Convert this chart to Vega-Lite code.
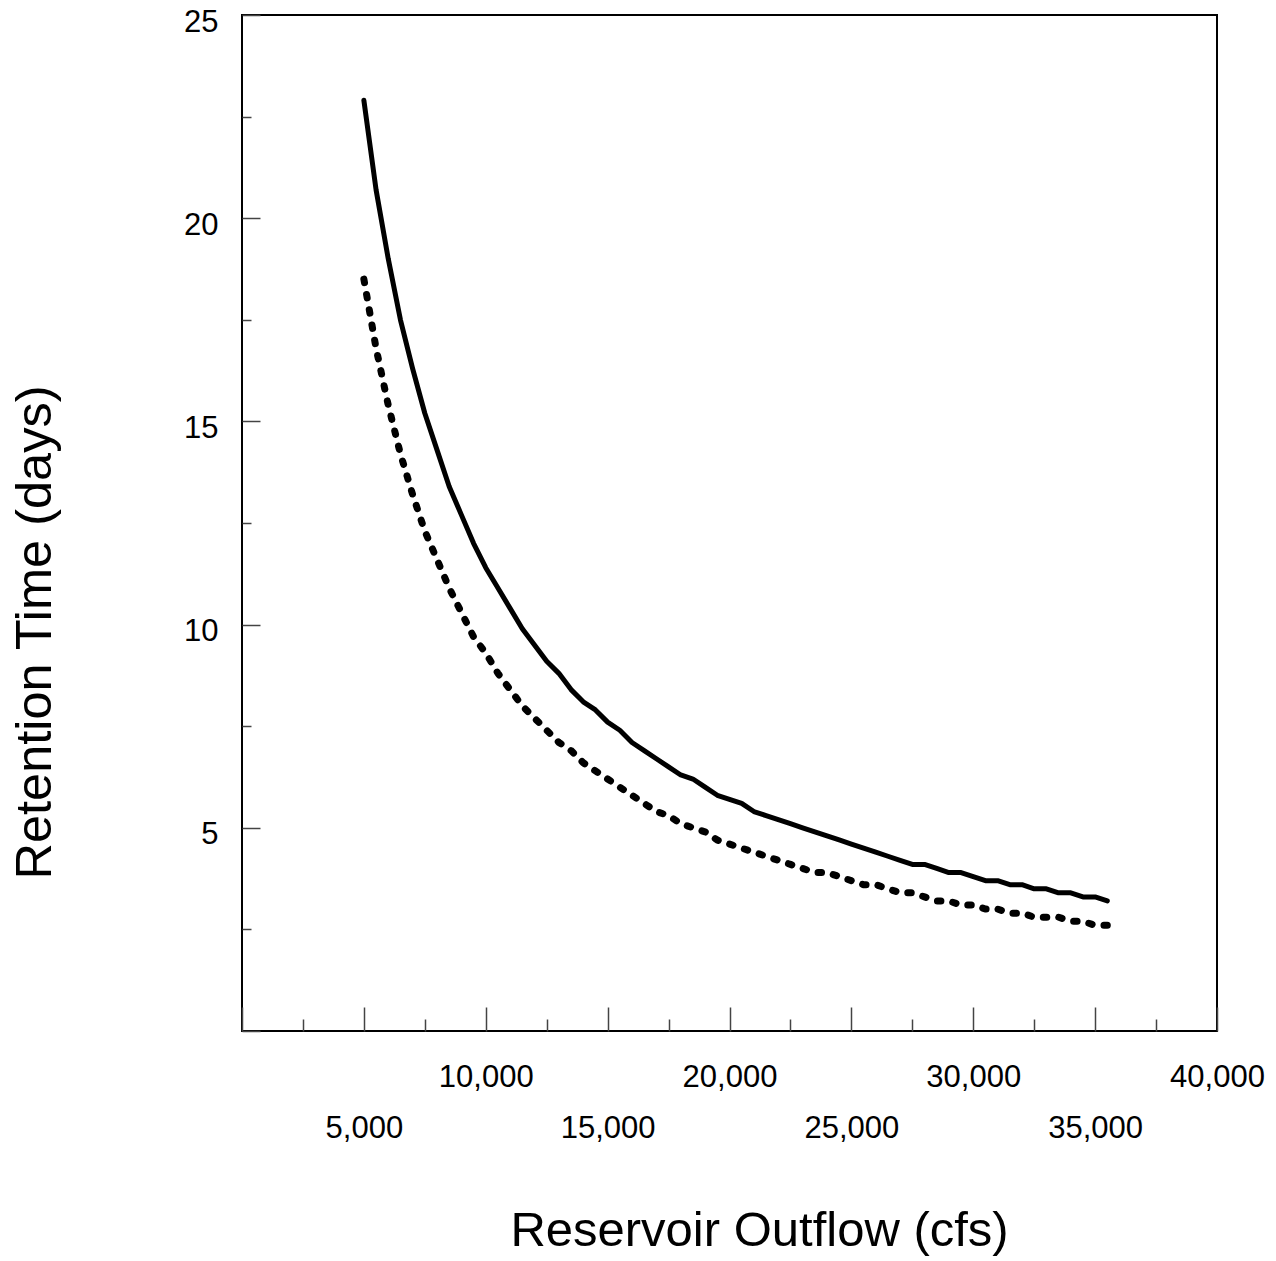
{
  "$schema": "https://vega.github.io/schema/vega-lite/v6.json",
  "autosize": "none",
  "padding": {"left": 242, "top": 15, "right": 59, "bottom": 230},
  "width": 975,
  "height": 1016,
  "background": "white",
  "config": {
    "view": {"stroke": "black", "strokeWidth": 2},
    "font": "Liberation Sans"
  },
  "data": {
    "values": [
      {"flow": 5000, "days": 22.9, "series": "A"},
      {"flow": 5500, "days": 20.7, "series": "A"},
      {"flow": 6000, "days": 19.0, "series": "A"},
      {"flow": 6500, "days": 17.5, "series": "A"},
      {"flow": 7000, "days": 16.3, "series": "A"},
      {"flow": 7500, "days": 15.2, "series": "A"},
      {"flow": 8000, "days": 14.3, "series": "A"},
      {"flow": 8500, "days": 13.4, "series": "A"},
      {"flow": 9000, "days": 12.7, "series": "A"},
      {"flow": 9500, "days": 12.0, "series": "A"},
      {"flow": 10000, "days": 11.4, "series": "A"},
      {"flow": 10500, "days": 10.9, "series": "A"},
      {"flow": 11000, "days": 10.4, "series": "A"},
      {"flow": 11500, "days": 9.9, "series": "A"},
      {"flow": 12000, "days": 9.5, "series": "A"},
      {"flow": 12500, "days": 9.1, "series": "A"},
      {"flow": 13000, "days": 8.8, "series": "A"},
      {"flow": 13500, "days": 8.4, "series": "A"},
      {"flow": 14000, "days": 8.1, "series": "A"},
      {"flow": 14500, "days": 7.9, "series": "A"},
      {"flow": 15000, "days": 7.6, "series": "A"},
      {"flow": 15500, "days": 7.4, "series": "A"},
      {"flow": 16000, "days": 7.1, "series": "A"},
      {"flow": 16500, "days": 6.9, "series": "A"},
      {"flow": 17000, "days": 6.7, "series": "A"},
      {"flow": 17500, "days": 6.5, "series": "A"},
      {"flow": 18000, "days": 6.3, "series": "A"},
      {"flow": 18500, "days": 6.2, "series": "A"},
      {"flow": 19000, "days": 6.0, "series": "A"},
      {"flow": 19500, "days": 5.8, "series": "A"},
      {"flow": 20000, "days": 5.7, "series": "A"},
      {"flow": 20500, "days": 5.6, "series": "A"},
      {"flow": 21000, "days": 5.4, "series": "A"},
      {"flow": 21500, "days": 5.3, "series": "A"},
      {"flow": 22000, "days": 5.2, "series": "A"},
      {"flow": 22500, "days": 5.1, "series": "A"},
      {"flow": 23000, "days": 5.0, "series": "A"},
      {"flow": 23500, "days": 4.9, "series": "A"},
      {"flow": 24000, "days": 4.8, "series": "A"},
      {"flow": 24500, "days": 4.7, "series": "A"},
      {"flow": 25000, "days": 4.6, "series": "A"},
      {"flow": 25500, "days": 4.5, "series": "A"},
      {"flow": 26000, "days": 4.4, "series": "A"},
      {"flow": 26500, "days": 4.3, "series": "A"},
      {"flow": 27000, "days": 4.2, "series": "A"},
      {"flow": 27500, "days": 4.1, "series": "A"},
      {"flow": 28000, "days": 4.1, "series": "A"},
      {"flow": 28500, "days": 4.0, "series": "A"},
      {"flow": 29000, "days": 3.9, "series": "A"},
      {"flow": 29500, "days": 3.9, "series": "A"},
      {"flow": 30000, "days": 3.8, "series": "A"},
      {"flow": 30500, "days": 3.7, "series": "A"},
      {"flow": 31000, "days": 3.7, "series": "A"},
      {"flow": 31500, "days": 3.6, "series": "A"},
      {"flow": 32000, "days": 3.6, "series": "A"},
      {"flow": 32500, "days": 3.5, "series": "A"},
      {"flow": 33000, "days": 3.5, "series": "A"},
      {"flow": 33500, "days": 3.4, "series": "A"},
      {"flow": 34000, "days": 3.4, "series": "A"},
      {"flow": 34500, "days": 3.3, "series": "A"},
      {"flow": 35000, "days": 3.3, "series": "A"},
      {"flow": 35500, "days": 3.2, "series": "A"},
      {"flow": 5000, "days": 18.5, "series": "B"},
      {"flow": 5500, "days": 16.8, "series": "B"},
      {"flow": 6000, "days": 15.4, "series": "B"},
      {"flow": 6500, "days": 14.2, "series": "B"},
      {"flow": 7000, "days": 13.2, "series": "B"},
      {"flow": 7500, "days": 12.3, "series": "B"},
      {"flow": 8000, "days": 11.6, "series": "B"},
      {"flow": 8500, "days": 10.9, "series": "B"},
      {"flow": 9000, "days": 10.3, "series": "B"},
      {"flow": 9500, "days": 9.7, "series": "B"},
      {"flow": 10000, "days": 9.3, "series": "B"},
      {"flow": 10500, "days": 8.8, "series": "B"},
      {"flow": 11000, "days": 8.4, "series": "B"},
      {"flow": 11500, "days": 8.0, "series": "B"},
      {"flow": 12000, "days": 7.7, "series": "B"},
      {"flow": 12500, "days": 7.4, "series": "B"},
      {"flow": 13000, "days": 7.1, "series": "B"},
      {"flow": 13500, "days": 6.9, "series": "B"},
      {"flow": 14000, "days": 6.6, "series": "B"},
      {"flow": 14500, "days": 6.4, "series": "B"},
      {"flow": 15000, "days": 6.2, "series": "B"},
      {"flow": 15500, "days": 6.0, "series": "B"},
      {"flow": 16000, "days": 5.8, "series": "B"},
      {"flow": 16500, "days": 5.6, "series": "B"},
      {"flow": 17000, "days": 5.4, "series": "B"},
      {"flow": 17500, "days": 5.3, "series": "B"},
      {"flow": 18000, "days": 5.1, "series": "B"},
      {"flow": 18500, "days": 5.0, "series": "B"},
      {"flow": 19000, "days": 4.9, "series": "B"},
      {"flow": 19500, "days": 4.7, "series": "B"},
      {"flow": 20000, "days": 4.6, "series": "B"},
      {"flow": 20500, "days": 4.5, "series": "B"},
      {"flow": 21000, "days": 4.4, "series": "B"},
      {"flow": 21500, "days": 4.3, "series": "B"},
      {"flow": 22000, "days": 4.2, "series": "B"},
      {"flow": 22500, "days": 4.1, "series": "B"},
      {"flow": 23000, "days": 4.0, "series": "B"},
      {"flow": 23500, "days": 3.9, "series": "B"},
      {"flow": 24000, "days": 3.9, "series": "B"},
      {"flow": 24500, "days": 3.8, "series": "B"},
      {"flow": 25000, "days": 3.7, "series": "B"},
      {"flow": 25500, "days": 3.6, "series": "B"},
      {"flow": 26000, "days": 3.6, "series": "B"},
      {"flow": 26500, "days": 3.5, "series": "B"},
      {"flow": 27000, "days": 3.4, "series": "B"},
      {"flow": 27500, "days": 3.4, "series": "B"},
      {"flow": 28000, "days": 3.3, "series": "B"},
      {"flow": 28500, "days": 3.2, "series": "B"},
      {"flow": 29000, "days": 3.2, "series": "B"},
      {"flow": 29500, "days": 3.1, "series": "B"},
      {"flow": 30000, "days": 3.1, "series": "B"},
      {"flow": 30500, "days": 3.0, "series": "B"},
      {"flow": 31000, "days": 3.0, "series": "B"},
      {"flow": 31500, "days": 2.9, "series": "B"},
      {"flow": 32000, "days": 2.9, "series": "B"},
      {"flow": 32500, "days": 2.8, "series": "B"},
      {"flow": 33000, "days": 2.8, "series": "B"},
      {"flow": 33500, "days": 2.8, "series": "B"},
      {"flow": 34000, "days": 2.7, "series": "B"},
      {"flow": 34500, "days": 2.7, "series": "B"},
      {"flow": 35000, "days": 2.6, "series": "B"},
      {"flow": 35500, "days": 2.6, "series": "B"}
    ]
  },
  "encoding": {
    "x": {
      "field": "flow",
      "type": "quantitative",
      "scale": {"domain": [0, 40000], "nice": false},
      "axis": {
        "title": "Reservoir Outflow (cfs)",
        "titleFontSize": 49,
        "titleFontWeight": "normal",
        "titleColor": "black",
        "titleX": 517,
        "titleY": 214,
        "titleAlign": "center",
        "titleBaseline": "alphabetic",
        "domain": false,
        "grid": false,
        "values": [0, 2500, 5000, 7500, 10000, 12500, 15000, 17500, 20000, 22500, 25000, 27500, 30000, 32500, 35000, 37500, 40000],
        "labelExpr": "datum.value % 5000 == 0 && datum.value > 0 ? format(datum.value, ',') : ''",
        "labelFontSize": 31,
        "labelColor": "black",
        "labelFlush": false,
        "labelOverlap": false,
        "labelBaseline": "top",
        "labelPadding": {"condition": {"test": "datum.value % 10000 == 0", "value": 55}, "value": 106},
        "tickSize": {"condition": {"test": "datum.value % 5000 == 0", "value": -24}, "value": -12},
        "tickColor": "#444444",
        "tickWidth": 1.5
      }
    },
    "y": {
      "field": "days",
      "type": "quantitative",
      "scale": {"domain": [0, 25], "nice": false},
      "axis": {
        "title": "Retention Time (days)",
        "titleFontSize": 50.5,
        "titleFontWeight": "normal",
        "titleColor": "black",
        "titleX": -192,
        "titleY": 617,
        "titleAngle": -90,
        "titleAlign": "center",
        "titleBaseline": "alphabetic",
        "domain": false,
        "grid": false,
        "values": [0, 2.5, 5, 7.5, 10, 12.5, 15, 17.5, 20, 22.5, 25],
        "labelExpr": "datum.value % 5 == 0 && datum.value > 0 ? format(datum.value, 'd') : ''",
        "labelFontSize": 31,
        "labelColor": "black",
        "labelFlush": false,
        "labelOverlap": false,
        "labelBaseline": "middle",
        "labelOffset": 7,
        "labelPadding": 42,
        "tickSize": {"condition": {"test": "datum.value % 5 == 0", "value": -18}, "value": -9},
        "tickColor": "#444444",
        "tickWidth": 1.5
      }
    }
  },
  "layer": [
    {
      "transform": [{"filter": "datum.series == 'A'"}],
      "mark": {"type": "line", "color": "black", "strokeWidth": 5, "strokeCap": "round", "strokeJoin": "round"}
    },
    {
      "transform": [{"filter": "datum.series == 'B'"}],
      "mark": {"type": "line", "color": "black", "strokeWidth": 7, "strokeCap": "round", "strokeDash": [3.5, 12]}
    }
  ]
}
